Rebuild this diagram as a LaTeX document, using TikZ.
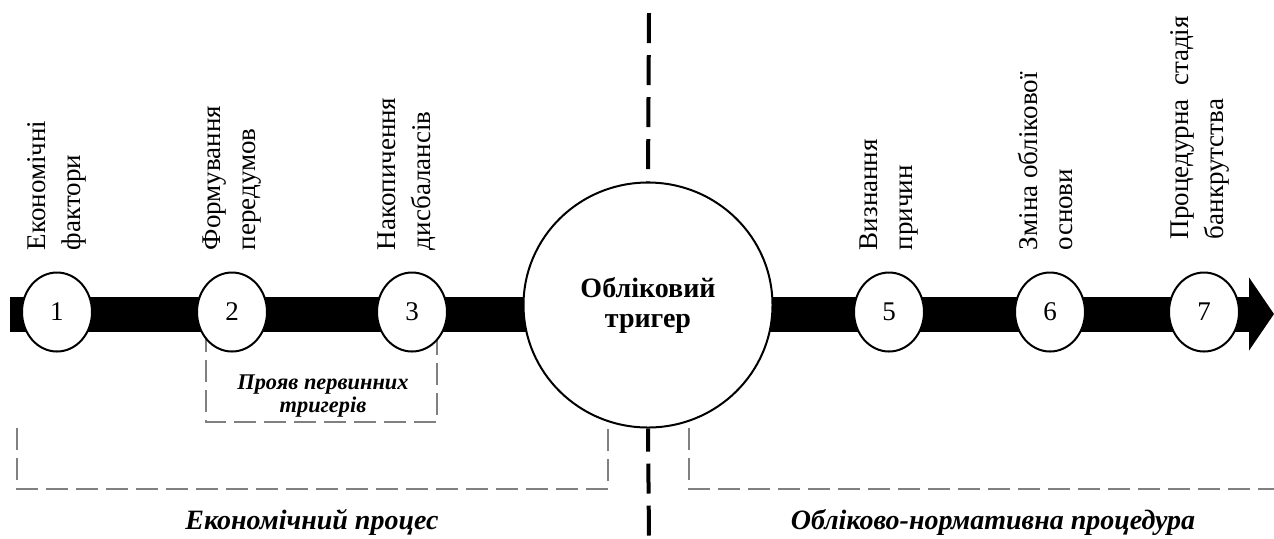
\documentclass[tikz,border=0pt]{standalone}
\usepackage{fontspec}
\setmainfont{Liberation Serif}
\usetikzlibrary{arrows.meta, positioning, shapes.geometric}
\definecolor{brkgray}{HTML}{808080}
\tikzset{
  dot/.style={
    ellipse, draw, line width=1pt, fill=white, inner sep=0pt,
    minimum width=35pt, minimum height=39.5pt, font=\fontsize{13.5}{16}\selectfont
  },
  bigdot/.style={
    ellipse, draw, line width=1pt, fill=white, inner sep=0pt, align=center,
    minimum width=124.5pt, minimum height=122.5pt, font=\fontsize{14}{15}\selectfont\bfseries
  },
  vlab/.style={rotate=90, anchor=west, align=left, inner sep=0pt, font=\fontsize{13.5}{17.5}\selectfont},
  bar/.style={line width=17.5pt, -{Triangle[length=12.5pt,width=36pt]}},
  divline/.style={line width=2pt, dash pattern=on 15pt off 6pt},
  brk/.style={draw=brkgray, line width=1pt, dash pattern=on 11pt off 4pt},
  note/.style={font=\fontsize{14}{16}\selectfont\bfseries\itshape},
  smallnote/.style={align=center, font=\fontsize{11.2}{11.5}\selectfont\bfseries\itshape}
}
\begin{document}
\begin{tikzpicture}[x=0.5pt, y=-0.5pt]
  \useasboundingbox (0,0) rectangle (1274,538);

  \draw[brk] (206,330) -- (206,422) -- (437,422) -- (437,330);
  \draw[brk] (17,428) -- (17,489) -- (608,489) -- (608,428);
  \draw[brk] (689,428) -- (689,489) -- (1274,489);

  \coordinate (bstart) at (10,314);
  \coordinate (btip) at (1274,314);
  \draw[bar] (bstart) -- (btip);

  \node[dot] (c1) at (57,312) {1};
  \node[dot] (c2) at (232,312) {2};
  \node[dot] (c3) at (412,312) {3};
  \node[bigdot] (trig) at (648,305) {Обліковий\\тригер};
  \node[dot] (c5) at (889,312) {5};
  \node[dot] (c6) at (1050,312) {6};
  \node[dot] (c7) at (1204,312) {7};

  \node[vlab] (l1) at ([yshift=10.5pt]c1.north) {Економічні\\фактори};
  \node[vlab] (l2) at ([yshift=10.5pt]c2.north) {Формування\\передумов};
  \node[vlab] (l3) at ([xshift=-2.5pt,yshift=10.5pt]c3.north) {Накопичення\\дисбалансів};
  \node[vlab] (l5) at ([yshift=10.5pt]c5.north) {Визнання\\причин};
  \node[vlab] (l6) at ([xshift=-2.5pt,yshift=10.5pt]c6.north) {Зміна облікової\\основи};
  \node[vlab] (l7) at ([xshift=-2pt,yshift=16pt]c7.north) {Процедурна\enspace стадія\\банкрутства};

  \coordinate (dtop) at (649,13);
  \coordinate (dbot) at (649,538);
  \draw[divline] (dtop) -- (trig.north);
  \draw[divline, dash phase=3.5pt] (trig.south) -- (dbot);

  \node[smallnote] (prim) at (323,396) {Прояв первинних\\тригерів};
  \node[note] (econ) at (312,522) {Економічний процес};
  \node[note] (norm) at (993,522) {Обліково-нормативна процедура};
\end{tikzpicture}
\end{document}
